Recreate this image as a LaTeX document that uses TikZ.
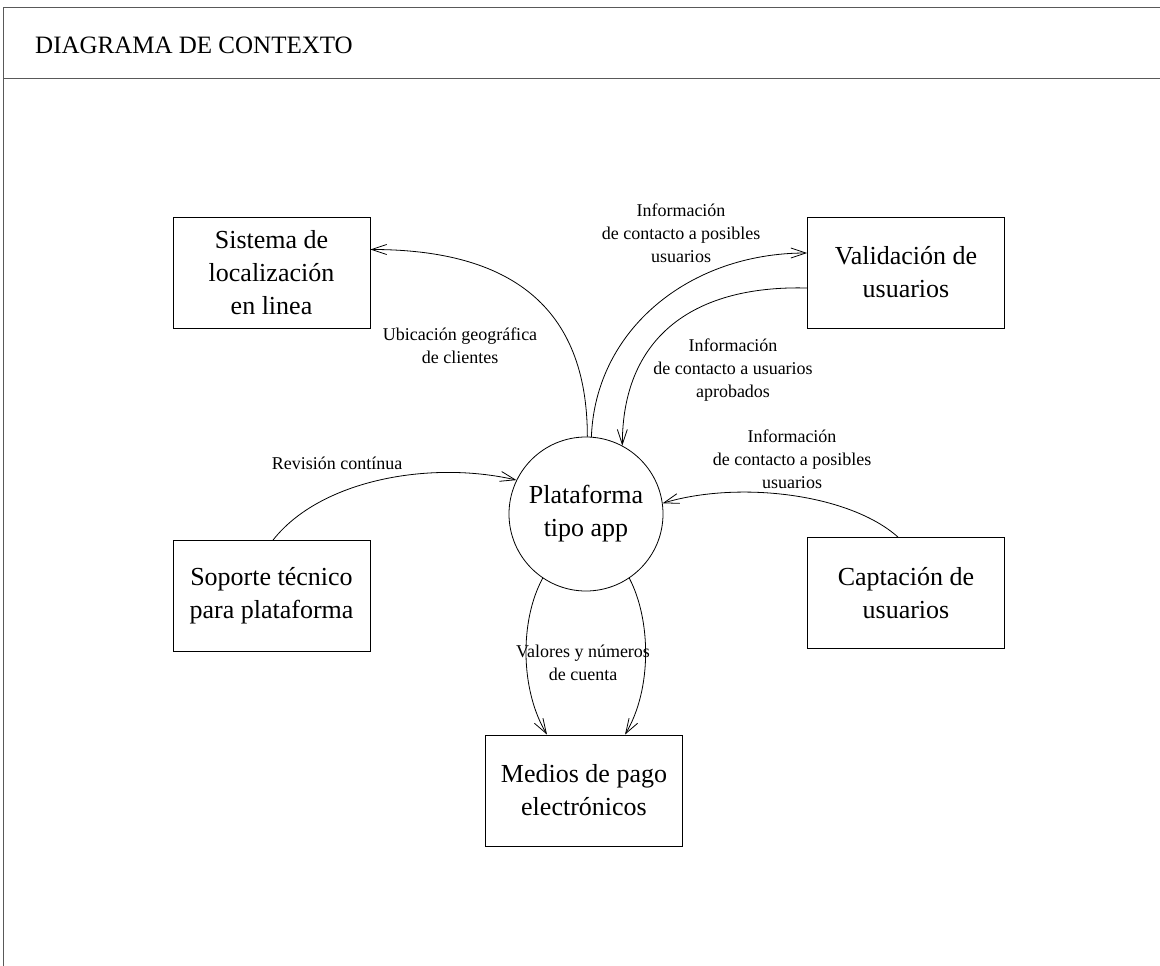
\documentclass[tikz,border=0pt]{standalone}
\usepackage{fontspec}
\setmainfont{Liberation Serif}
\usetikzlibrary{arrows.meta}
\tikzset{
  box/.style={draw, line width=0.8pt, minimum width=197pt, minimum height=111pt, inner sep=0pt, align=center, font=\fontsize{26}{33}\selectfont},
  circ/.style={draw, circle, line width=0.8pt, minimum size=154pt, inner sep=0pt, align=center, font=\fontsize{26}{33}\selectfont},
  lbl/.style={align=center, inner sep=0pt, font=\fontsize{18}{23}\selectfont},
  flow/.style={line width=0.8pt, -{Straight Barb[length=15pt,width=10pt,line width=0.8pt]}},
  frame/.style={line width=1pt, draw=black!65}
}
\begin{document}
\begin{tikzpicture}[x=1pt,y=-1pt]
\useasboundingbox (0,0) rectangle (1160,966);
\draw[frame] (1160,8) -- (3,8) -- (3,966);
\draw[frame] (3,79) -- (1160,79);
\node[anchor=west, inner sep=0pt, font=\fontsize{25}{30}\selectfont] (title) at (35,45) {DIAGRAMA DE CONTEXTO};

\node[box] (sis) at (271.5,272.5) {Sistema de\\localización\\en linea};
\node[box] (val) at (906,272.5) {Validación de\\usuarios};
\node[box] (sop) at (271.5,596) {Soporte técnico\\para plataforma};
\node[box] (cap) at (906,593) {Captación de\\usuarios};
\node[box] (med) at (584,790.5) {Medios de pago\\electrónicos};
\node[circ] (plat) at (586,514) {Plataforma\\tipo app};

\draw[flow] (plat.89) .. controls +(0,-130) and +(140,0) .. ([yshift=23pt]sis.east);
\draw[flow] (plat.86) .. controls +(4,-107) and +(-118,0) .. ([yshift=19.5pt]val.west);
\draw[flow] ([yshift=-15.5pt]val.west) .. controls +(-118,-3) and +(0,-105) .. (plat.62);
\draw[flow] ([xshift=1.5pt]sop.north) .. controls +(47,-60) and +(-87,-20) .. (plat.154);
\draw[flow] ([xshift=-8pt]cap.north) .. controls +(-48,-43) and +(77,-23) .. (plat.8);
\draw[flow] (plat.236) .. controls +(-23,42) and +(-27,-45) .. ([xshift=-37pt]med.north);
\draw[flow] (plat.304) .. controls +(22,42) and +(27,-45) .. ([xshift=41pt]med.north);

\node[lbl] (l1) at (681,233) {Información\\de contacto a posibles\\usuarios};
\node[lbl] (l2) at (460,346) {Ubicación geográfica\\de clientes};
\node[lbl] (l3) at (733,370) {Información\\de contacto a usuarios\\aprobados};
\node[lbl] (l4) at (792,459) {Información\\de contacto a posibles\\usuarios};
\node[lbl] (l5) at (337,463) {Revisión contínua};
\node[lbl] (l6) at (583,663) {Valores y números\\de cuenta};
\end{tikzpicture}
\end{document}
